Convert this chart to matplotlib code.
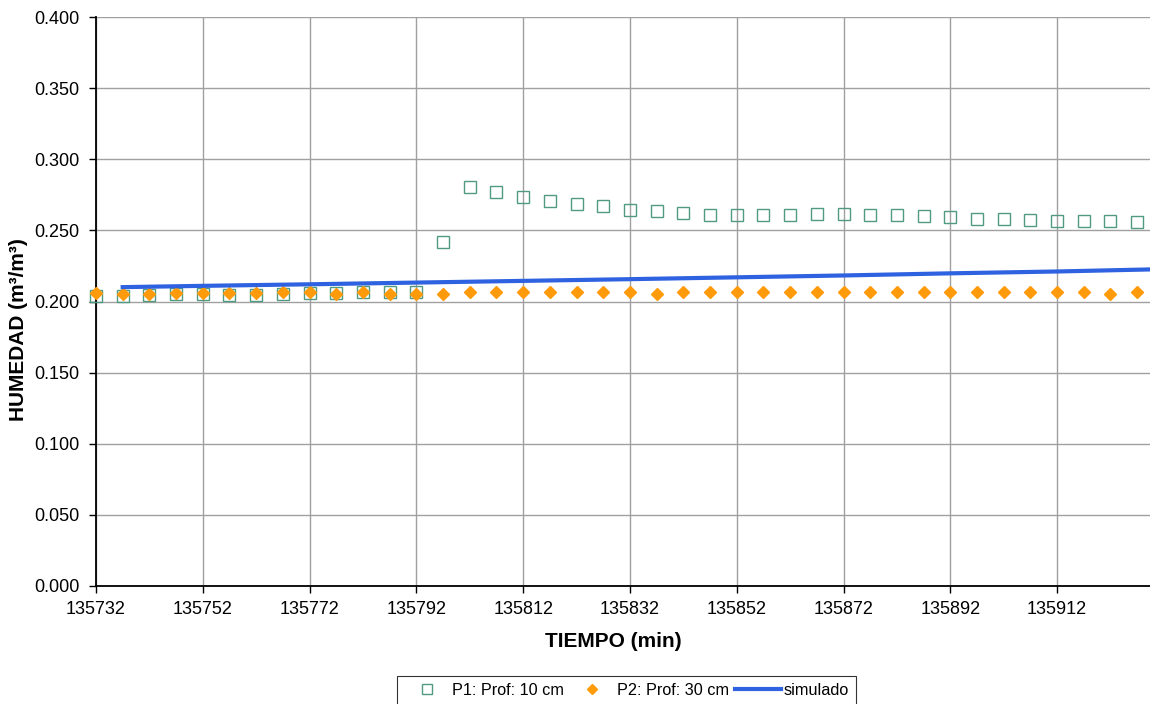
#!/usr/bin/env python3
# -*- coding: utf-8 -*-

import matplotlib
matplotlib.use("Agg")
import matplotlib.pyplot as plt

plt.rcParams['font.family'] = ['Liberation Sans', 'DejaVu Sans']

# time of every reading (min)
t_obs = [135732 + 5 * k for k in range(40)]

# P1: Prof: 10 cm
p1 = [0.2036, 0.2036, 0.2049, 0.2052, 0.2052, 0.2049, 0.2049, 0.2052, 0.2063, 0.2063,
      0.2068, 0.2066, 0.2070, 0.2420, 0.2803, 0.2770, 0.2733, 0.2707, 0.2688, 0.2671,
      0.2646, 0.2634, 0.2622, 0.2606, 0.2606, 0.2606, 0.2610, 0.2615, 0.2615, 0.2610,
      0.2608, 0.2601, 0.2592, 0.2582, 0.2582, 0.2573, 0.2568, 0.2566, 0.2566, 0.2559]

# P2: Prof: 30 cm
p2 = [0.2058, 0.2054, 0.2056, 0.2063, 0.2061, 0.2061, 0.2061, 0.2065, 0.2065, 0.2054,
      0.2068, 0.2052, 0.2054, 0.2054, 0.2066, 0.2066, 0.2066, 0.2066, 0.2066, 0.2066,
      0.2066, 0.2054, 0.2066, 0.2066, 0.2066, 0.2066, 0.2066, 0.2066, 0.2066, 0.2066,
      0.2066, 0.2066, 0.2066, 0.2066, 0.2066, 0.2066, 0.2066, 0.2066, 0.2052, 0.2066]

# simulado
t_sim = [135737, 135752, 135772, 135792, 135812, 135832, 135852, 135872, 135892, 135912, 135930]
sim = [0.2101, 0.2110, 0.2121, 0.2133, 0.2145, 0.2157, 0.2170, 0.2183, 0.2198, 0.2211, 0.2226]

x_ticks = [135732, 135752, 135772, 135792, 135812, 135832, 135852, 135872, 135892, 135912]
y_ticks = [0.0, 0.05, 0.10, 0.15, 0.20, 0.25, 0.30, 0.35, 0.40]

fig = plt.figure(figsize=(11.5, 7.04), dpi=100)
ax = fig.add_axes([96 / 1150, 1 - 586 / 704, 1 - 96 / 1150, (586 - 17) / 704])

ax.plot(t_obs, p1, 's', ms=8.5, mfc='none', mec='#4f9a80', mew=1.0,
        label='P1: Prof: 10 cm', clip_on=False, zorder=3)
ax.plot(t_obs, p2, 'D', ms=6, color='#ff9a0a', mec='#ff9a0a',
        label='P2: Prof: 30 cm', clip_on=False, zorder=4)
ax.plot(t_sim, sim, '-', color='#2f62e0', lw=3, label='simulado', zorder=5)

ax.set_xlim(135732, 135929.4)
ax.set_ylim(0, 0.4)
ax.set_xticks(x_ticks)
ax.set_xticklabels([str(v) for v in x_ticks])
ax.set_yticks(y_ticks)
ax.set_yticklabels(['%.3f' % v for v in y_ticks])
ax.tick_params(labelsize=13, length=5, width=1, colors='black')
ax.tick_params(axis='x', pad=6)
ax.tick_params(axis='y', pad=7)
ax.grid(True, color='#a0a0a0', lw=1)
ax.set_axisbelow(True)
ax.spines['top'].set_visible(False)
ax.spines['right'].set_visible(False)
ax.spines['left'].set_linewidth(1.3)
ax.spines['bottom'].set_linewidth(1.3)

ax.set_xlabel('TIEMPO (min)', fontsize=15, fontweight='bold')
ax.xaxis.set_label_coords(0.491, -0.097)
ax.xaxis.label.set_va('center')
ax.set_ylabel('HUMEDAD (m³/m³)', fontsize=15, fontweight='bold')
ax.yaxis.set_label_coords(-0.074, 0.45)
ax.yaxis.label.set_va('center')

leg = fig.legend(loc='upper center', bbox_to_anchor=(0.5445, 0.040), ncol=3,
                 fontsize=11.7, frameon=True, fancybox=False, edgecolor='black',
                 handlelength=2.8, handletextpad=0.15, columnspacing=0.35,
                 markerscale=0.8, borderpad=0.45, borderaxespad=0)
leg.get_frame().set_linewidth(0.8)

plt.savefig('out.png', dpi=100)
